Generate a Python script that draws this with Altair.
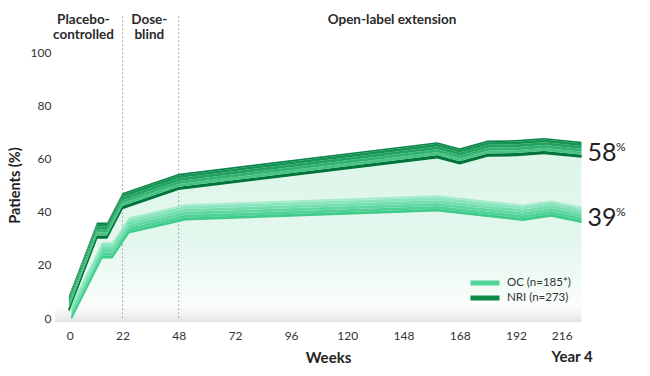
import altair as alt
import pandas as pd

# ---------------- data ----------------
nri_weeks = [1, 12, 16, 22, 48, 160, 168, 180, 192, 204, 220]
nri_pct = [3.0, 30.5, 30.5, 41.6, 48.8, 60.7, 58.4, 61.3, 61.5, 62.3, 60.9]
oc_weeks = [2, 14, 18, 25, 51, 160, 195, 207, 220]
oc_pct = [0.0, 23.0, 23.0, 32.4, 37.3, 40.6, 37.1, 38.7, 36.3]
series_labels = ["OC (n=185*)", "NRI (n=273)"]
end_labels = ["39", "58"]          # OC, NRI
x_ticks = [0, 22, 48, 72, 96, 120, 148, 168, 192, 216]
y_ticks = [0, 20, 40, 60, 80, 100]
phase_bounds = [22, 48]
phase_names = ["Placebo-\ncontrolled", "Dose-\nblind", "Open-label extension"]

FONT = "Lato"
W, H = 530, 266

nri_df = pd.DataFrame({"week": nri_weeks, "pct": nri_pct, "series": series_labels[1]})
oc_df = pd.DataFrame({"week": oc_weeks, "pct": oc_pct, "series": series_labels[0]})
all_df = pd.concat([oc_df, nri_df], ignore_index=True)

# ticks are evenly spaced on the page -> piecewise linear scale
x_range = [11.3 + 56.2 * i for i in range(len(x_ticks))]
xs = alt.Scale(domain=x_ticks, range=x_range, nice=False, zero=False)
ys = alt.Scale(domain=[0, 100], nice=False, zero=False)

x_axis = alt.Axis(values=x_ticks, format="d", title="Weeks", grid=False, ticks=False,
                  domain=False, labelPadding=12, labelFont=FONT, labelFontSize=12,
                  labelColor="#333333", titleFont=FONT, titleFontSize=15,
                  titleFontWeight="bold", titleColor="#222222", titleX=273, titleY=39,
                  titleAlign="center", titleBaseline="middle")
y_axis = alt.Axis(values=y_ticks, title="Patients (%)", grid=False, ticks=False,
                  domain=False, labelPadding=4, labelFont=FONT, labelFontSize=12,
                  labelColor="#333333", titleFont=FONT, titleFontSize=14.5,
                  titleFontWeight="bold", titleColor="#222222", titleX=-40, titleY=133,
                  titleAngle=270, titleAlign="center", titleBaseline="middle")


def X():
    return alt.X("week:Q", scale=xs, axis=x_axis)


def Y(field):
    return alt.Y(field, scale=ys, axis=y_axis)


# mint fill under the top curve
fill = alt.Chart(nri_df).transform_calculate(top="datum.pct + 5.0", base="0").mark_area(
    color=alt.Gradient(gradient="linear", x1=0, x2=0, y1=0, y2=1, stops=[
        alt.GradientStop(color="#dcf5e9", offset=0),
        alt.GradientStop(color="#e4f7ee", offset=0.6),
        alt.GradientStop(color="#f5fcf8", offset=0.85),
        alt.GradientStop(color="#ffffff", offset=1)]),
).encode(x=X(), y=Y("top:Q"), y2="base:Q")

# floor shadow
floor = alt.Chart(pd.DataFrame({"week": [-4.4], "w2": [220]})).transform_calculate(
    lo="-1.5", hi="4.5").mark_rect(
    color=alt.Gradient(gradient="linear", x1=0, x2=0, y1=0, y2=1, stops=[
        alt.GradientStop(color="rgba(225,225,228,0)", offset=0),
        alt.GradientStop(color="rgba(225,225,228,0.6)", offset=0.7),
        alt.GradientStop(color="#e0e0e3", offset=1)]),
).encode(x=X(), x2="w2:Q", y=Y("hi:Q"), y2="lo:Q")

# phase boundaries
rules = alt.Chart(pd.DataFrame({"week": phase_bounds})).transform_calculate(
    lo="0", hi="114.3").mark_rule(
    color="#9a9a9a", strokeDash=[1.5, 2.5], strokeWidth=1
).encode(x=X(), y=Y("lo:Q"), y2="hi:Q")

# legend carrier (hidden under ribbons)
legend_line = alt.Chart(all_df).mark_line(strokeWidth=2).encode(
    x=X(), y=Y("pct:Q"),
    color=alt.Color("series:N", scale=alt.Scale(domain=series_labels,
                                                 range=["#4fd598", "#0b8a4a"]),
                    legend=alt.Legend(title=None, orient="none", legendX=413, legendY=225,
                                      symbolType="stroke", symbolStrokeWidth=5,
                                      symbolSize=841, clipHeight=12, rowPadding=3,
                                      labelOffset=5, labelFont=FONT, labelFontSize=11.5,
                                      labelColor="#333333", padding=0)))

oc_bands = [(-0.6, 0.4, "#3fcc8b"), (0.4, 1.5, "#50d296"), (1.5, 2.6, "#60d8a2"),
            (2.6, 3.7, "#74deae"), (3.7, 4.8, "#8ae5be"), (4.8, 5.5, "#a4ecca")]
nri_bands = [(-0.7, 0.5, "#00743a"), (0.5, 1.6, "#47c283"), (1.6, 2.7, "#32b270"),
             (2.7, 3.8, "#22a261"), (3.8, 4.8, "#149452"), (4.8, 5.4, "#0a8448")]


def ribbon(df, bands):
    out = []
    for a, b, c in bands:
        out.append(alt.Chart(df).transform_calculate(
            lo=f"datum.pct + ({a})", hi=f"datum.pct + ({b})").mark_area(
            color=c, interpolate="linear").encode(
            x=X(), y=Y("lo:Q"), y2="hi:Q"))
    return out


# phase labels
phase_df = pd.DataFrame({"week": [6.7, 34.4, 142.3], "name": phase_names, "yy": [114.6] * 3})
phases = alt.Chart(phase_df).mark_text(
    font=FONT, fontSize=13.5, fontWeight="bold", color="#2a2a2a", baseline="top",
    align="center", lineBreak="\n", lineHeight=15
).encode(x=X(), y=Y("yy:Q"), text="name:N")

year4 = alt.Chart(pd.DataFrame({"week": [216], "t": ["Year 4"], "yy": [-14.7]})).mark_text(
    font=FONT, fontSize=15, fontWeight="bold", color="#222222", baseline="middle",
    align="center").encode(x=X(), y=Y("yy:Q"), text="t:N")

# end labels
end_df = pd.DataFrame({"week": [oc_weeks[-1], nri_weeks[-1]],
                       "pct": [oc_pct[-1], nri_pct[-1]],
                       "lab": end_labels, "pc": ["%", "%"]})
end_num = alt.Chart(end_df).mark_text(
    font=FONT, fontSize=25, color="#222222", align="left", baseline="middle",
    dx=6, dy=-3).encode(x=X(), y=Y("pct:Q"), text="lab:N")
end_pc = alt.Chart(end_df).mark_text(
    font=FONT, fontSize=12, color="#222222", align="left", baseline="middle",
    dx=34.5, dy=-9).encode(x=X(), y=Y("pct:Q"), text="pc:N")

layers = [fill, floor, rules, legend_line] + ribbon(oc_df, oc_bands) + \
    ribbon(nri_df, nri_bands) + [phases, year4, end_num, end_pc]

chart = alt.layer(*layers).properties(
    width=W, height=H, autosize="none",
    padding={"left": 55, "top": 52, "right": 65, "bottom": 58},
    background="white"
).configure_view(stroke=None)

chart.save("out.html", embed_options={"renderer": "svg", "actions": False})
